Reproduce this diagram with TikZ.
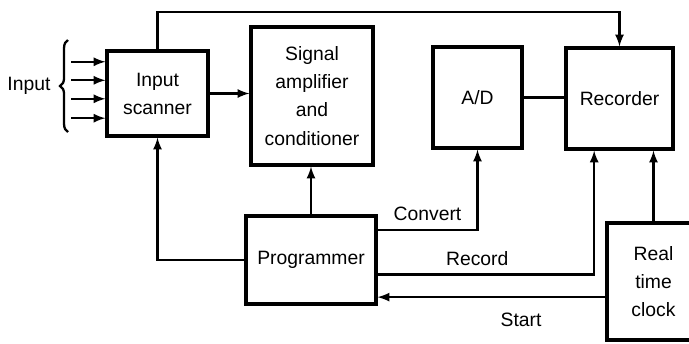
\documentclass[tikz,border=0pt]{standalone}
\usepackage{fontspec}
\setmainfont{Liberation Sans}
\usepackage{tikz}
\usetikzlibrary{arrows}
\usetikzlibrary{calc}
\usetikzlibrary{decorations.pathreplacing}

\begin{document}
\begin{tikzpicture}[x=0.02cm, y=-0.02cm,
    blk/.style={draw, line width=1.8pt, align=center, inner sep=0pt,
      font=\fontsize{11}{16}\selectfont},
    arr/.style={-latex, line width=1.3pt},
    ln/.style={line width=1.3pt},
    lbl/.style={font=\fontsize{11}{16}\selectfont}]
      \useasboundingbox (0, 0) rectangle (689, 343);
      \node [blk, minimum width=2.02cm, minimum height=1.7cm] (scanner) at (157.5, 93.5) {Input\\scanner};
      \node [blk, minimum width=2.44cm, minimum height=2.76cm] (amp) at (312, 96) {Signal\\amplifier\\and\\conditioner};
      \node [blk, minimum width=1.78cm, minimum height=2.02cm] (ad) at (477.5, 97.5) {A/D};
      \node [blk, minimum width=2.14cm, minimum height=2.02cm] (rec) at (619.5, 98.5) {Recorder};
      \node [blk, minimum width=2.6cm, minimum height=1.76cm] (prog) at (311, 260) {Programmer};
      \node [blk, minimum width=1.86cm, minimum height=2.34cm] (clock) at (653.5, 281.5) {Real\\time\\clock};
      % inputs
      \foreach \f in {0.14, 0.35, 0.56, 0.78}
        \draw [arr] ($(scanner.north west)!\f!(scanner.south west) + (-34, 0)$) -- ($(scanner.north west)!\f!(scanner.south west)$);
      \draw [ln, decorate, decoration={brace, amplitude=4.5pt}] (68, 132) -- (68, 40)
        node [lbl, midway, left=6pt] (inlbl) {Input};
      % signal path
      \coordinate (top) at (388, 12);
      \draw [arr] (scanner.north) |- (top) -| (rec.north);
      \draw [arr] (scanner.east) -- (scanner.east -| amp.west);
      \draw [ln] (ad.east) -- (ad.east -| rec.west);
      % control lines
      \draw [arr] (prog.north) -- (prog.north |- amp.south);
      \draw [arr] (prog.west) -| (scanner.south);
      \draw [arr] ($(prog.north east)!0.17!(prog.south east)$) -| (ad.south)
        node [lbl, pos=0.25, above=1pt] (cvlbl) {Convert};
      \draw [arr] ($(prog.north east)!0.66!(prog.south east)$) -| ($(rec.south west)!0.27!(rec.south east)$)
        node [lbl, pos=0.23, above=1pt] (rclbl) {Record};
      \draw [arr] (clock.north) -- (clock.north |- rec.south);
      \draw [arr] ($(clock.north west)!0.63!(clock.south west)$) coordinate (st) -- (st -| prog.east)
        node [lbl, pos=0.37, below=5pt] (stlbl) {Start};
    \end{tikzpicture}
\end{document}
